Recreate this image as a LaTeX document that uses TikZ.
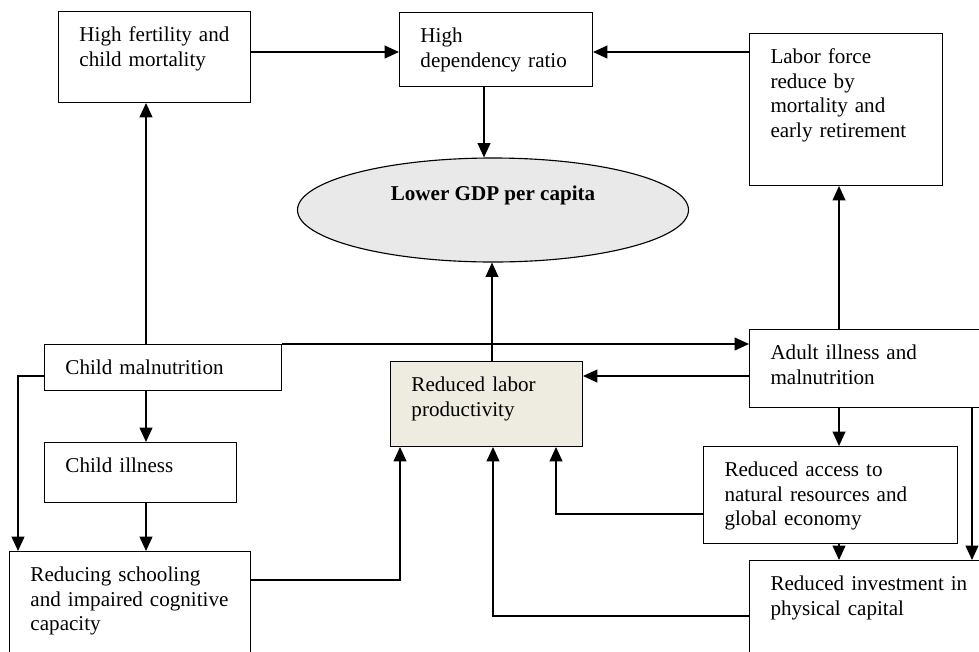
\documentclass[tikz,border=0pt]{standalone}
\usepackage{fontspec}
\setmainfont{Liberation Serif}
\usetikzlibrary{arrows.meta,shapes.geometric}

\definecolor{tanfill}{HTML}{EEECE1}

\begin{document}
\begin{tikzpicture}[
    box/.style={rectangle, draw, line width=0.7pt, anchor=north west, align=left, inner xsep=0.525cm, inner ysep=0.35cm, text height=0.4cm, font=\fontsize{15}{17.5}\selectfont},
    outcome/.style={ellipse, draw, line width=0.8pt, fill=gray!17, minimum width=9.775cm, minimum height=2.6cm, font=\fontsize{15}{17.5}\selectfont\bfseries},
    flow/.style={-{Triangle[length=0.36cm,width=0.32cm]}, line width=1.2pt}
]
\useasboundingbox (0,0) rectangle (24.475,-16.275);

% Top row
\node[box, text width=3.75cm, text depth=1.175cm] (fert) at (1.45,-0.275) {High fertility and\\child mortality};
\node[box, text width=3.775cm, text depth=0.75cm] (dep) at (9.975,-0.3) {High\\dependency ratio};
\node[box, text width=3.775cm, text depth=2.7cm] (labor) at (18.725,-0.825) {Labor force\\reduce by\\mortality and\\early retirement};

% Central outcome
\node[outcome, text height=0.4cm, text depth=0.9cm] (gdp) at (12.325,-5.25) {Lower GDP per capita};

% Child side
\node[box, text width=4.875cm, text depth=0.05cm] (cmal) at (1.1,-8.6) {Child malnutrition};
\node[box, text width=3.75cm, text depth=0.4cm] (cill) at (1.1,-11.05) {Child illness};
\node[box, text width=4.975cm, text depth=1.75cm] (school) at (0.225,-13.775) {Reducing schooling\\and impaired cognitive\\capacity};

% Productivity
\node[box, fill=tanfill, text width=3.75cm, text depth=1.025cm] (prod) at (9.75,-9.025) {Reduced labor\\productivity};

% Adult side
\node[box, text width=4.85cm, text depth=0.85cm] (adult) at (18.725,-8.225) {Adult illness and\\malnutrition};
\node[box, text width=5.3cm, text depth=1.325cm] (access) at (17.575,-11.15) {Reduced access to\\natural resources and\\global economy};
\node[box, text width=5.3cm, text depth=1.275cm] (invest) at (18.725,-14.0) {Reduced investment in\\physical capital};

% Connectors
\draw[flow] (fert.east |- 0,-1.3) -- (dep.west |- 0,-1.3);
\draw[flow] (labor.west |- 0,-1.3) -- (dep.east |- 0,-1.3);
\draw[flow] (dep.south -| 12.1,0) -- (gdp.north -| 12.1,0);

\draw[flow] (cmal.north -| 3.65,0) -- (fert.south -| 3.65,0);
\draw[flow] (cmal.north east) -- (adult.west |- cmal.north east);
\draw[flow] (cmal.west |- 0,-9.4) -| (school.north -| 0.45,0);
\draw[flow] (cmal.south -| 3.65,0) -- (cill.north -| 3.65,0);
\draw[flow] (cill.south -| 3.65,0) -- (school.north -| 3.65,0);
\draw[flow] (school.east |- 0,-14.5) -| (prod.south -| 10,0);

\draw[flow] (prod.north -| 12.3,0) -- (gdp.south -| 12.3,0);

\draw[flow] (adult.north -| 20.975,0) -- (labor.south -| 20.975,0);
\draw[flow] (adult.west |- 0,-9.4) -- (prod.east |- 0,-9.4);
\draw[flow] (adult.south -| 20.975,0) -- (access.north -| 20.975,0);
\draw[flow] (adult.south -| 24.3,0) -- (invest.north -| 24.3,0);
\draw[flow] (access.south -| 20.975,0) -- (invest.north -| 20.975,0);
\draw[flow] (access.west |- 0,-12.85) -| (prod.south -| 13.9,0);
\draw[flow] (invest.west |- 0,-15.4) -| (prod.south -| 12.325,0);

\end{tikzpicture}
\end{document}
